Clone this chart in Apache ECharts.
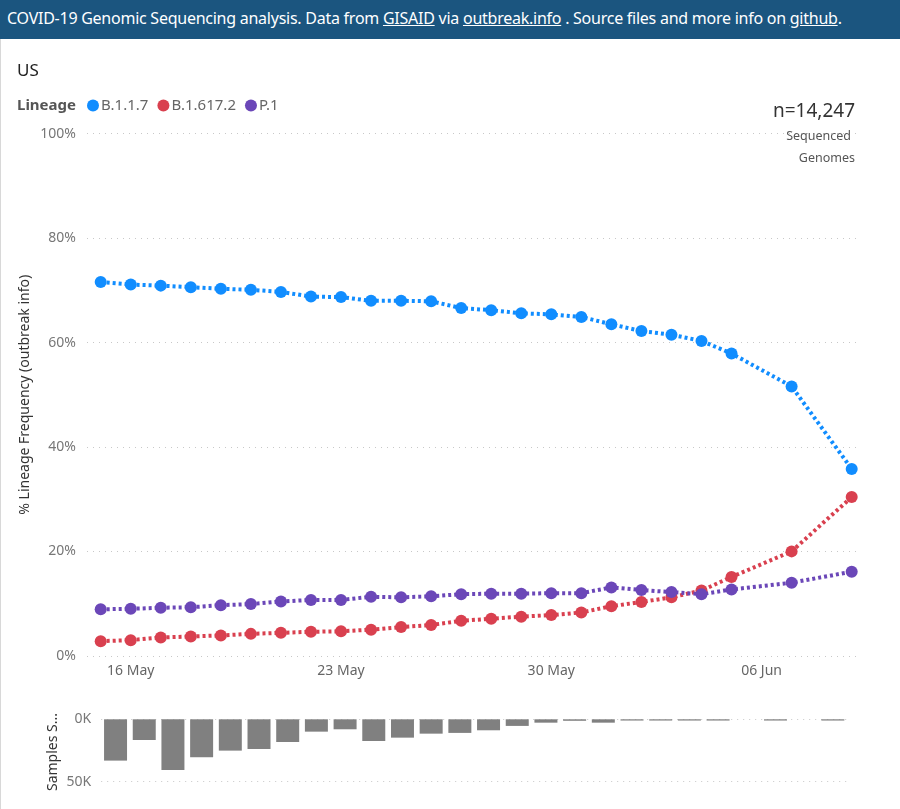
<!DOCTYPE html>
<html>
<head>
<meta charset="utf-8">
<script src="https://cdn.jsdelivr.net/npm/echarts@6/dist/echarts.min.js"></script>
<style>
  html, body { margin: 0; padding: 0; background: #fff; overflow: hidden; }
  #header {
    position: absolute; left: 0; top: 0; width: 900px; height: 39px; line-height: 37px;
    background: #1b557f; color: #fff; white-space: nowrap; padding-left: 7px; box-sizing: border-box;
    font-family: "Noto Sans", sans-serif; font-size: 16px; letter-spacing: -0.25px;
  }
  #header a { color: #fff; text-decoration: underline; }
  #edge { position: absolute; left: 0; top: 39px; width: 1px; height: 770px; background: #d8d8d8; }
  #chart { position: absolute; left: 0; top: 0; width: 900px; height: 809px; }
</style>
</head>
<body>
<div id="chart"></div>
<div id="header">COVID-19 Genomic Sequencing analysis. Data from <a>GISAID</a> via <a>outbreak.info</a> . Source files and more info on <a>github</a>.</div>
<div id="edge"></div>
<script>
var dates = ['2021-05-15', '2021-05-16', '2021-05-17', '2021-05-18', '2021-05-19', '2021-05-20', '2021-05-21',
  '2021-05-22', '2021-05-23', '2021-05-24', '2021-05-25', '2021-05-26', '2021-05-27', '2021-05-28',
  '2021-05-29', '2021-05-30', '2021-05-31', '2021-06-01', '2021-06-02', '2021-06-03', '2021-06-04',
  '2021-06-05', '2021-06-06', '2021-06-07', '2021-06-08', '2021-06-09'];
var b117 = [71.6, 71.1, 70.9, 70.6, 70.3, 70.1, 69.7, 68.8, 68.7, 68.0, 68.0, 67.9, 66.6, 66.2,
  65.6, 65.4, 64.9, 63.5, 62.2, 61.5, 60.3, 57.9, null, 51.6, null, 35.8];
var b16172 = [2.8, 3.0, 3.5, 3.7, 3.9, 4.2, 4.4, 4.6, 4.7, 5.0, 5.5, 5.9, 6.7, 7.1,
  7.5, 7.8, 8.3, 9.5, 10.3, 11.2, 12.5, 15.1, null, 20.0, null, 30.4];
var p1 = [8.9, 9.0, 9.2, 9.3, 9.7, 9.9, 10.4, 10.7, 10.7, 11.3, 11.2, 11.4, 11.8, 11.9,
  11.9, 12.0, 12.0, 13.1, 12.6, 12.2, 11.8, 12.7, null, 14.0, null, 16.1];
var samples = [33.1, 16.6, 40.6, 30.4, 25.1, 23.8, 18.2, 9.9, 8.0, 17.4, 14.7, 11.5, 10.9, 8.8,
  5.3, 2.7, 1.2, 2.7, 1.0, 1.0, 1.0, 1.0, null, 1.0, null, 1.0];
var dateLabels = ['2021-05-16', '2021-05-23', '2021-05-30', '2021-06-06'];
var monthNames = ['Jan', 'Feb', 'Mar', 'Apr', 'May', 'Jun', 'Jul', 'Aug', 'Sep', 'Oct', 'Nov', 'Dec'];

var DAY = 86400000;
var FONT = '"Noto Sans", sans-serif';

function ms(s) { return new Date(s + 'T00:00:00Z').getTime(); }
function pairs(values) {
  return dates.map(function (d, i) { return [ms(d), values[i]]; });
}
function dayLabel(v) {
  var d = new Date(v), n = d.getUTCDate();
  return (n < 10 ? '0' + n : n) + ' ' + monthNames[d.getUTCMonth()];
}
function lineSeries(name, color, values) {
  return {
    name: name,
    type: 'line',
    xAxisIndex: 0,
    yAxisIndex: 0,
    data: pairs(values),
    connectNulls: true,
    symbol: 'circle',
    symbolSize: 12,
    itemStyle: { color: color },
    lineStyle: { color: color, width: 4, type: [3, 3] }
  };
}
function label(text, opts) {
  var t = { text: text, textStyle: { fontFamily: FONT, fontWeight: 'normal', fontSize: opts.size, color: opts.color }, padding: 0 };
  if (opts.right !== undefined) t.right = opts.right; else t.left = opts.left;
  t.top = opts.top;
  if (opts.bold) t.textStyle.fontWeight = 'bold';
  return t;
}

var chart = echarts.init(document.getElementById('chart'));
chart.setOption({
  animation: false,
  backgroundColor: '#fff',
  tooltip: { trigger: 'item' },
  title: [
    label('US', { left: 17, top: 63, size: 17, color: '#222' }),
    label('Lineage', { left: 17, top: 98, size: 15, color: '#555', bold: true }),
    label('n=14,247', { right: 45, top: 102, size: 19, color: '#333' }),
    label('Sequenced', { right: 49, top: 130, size: 12.5, color: '#555' }),
    label('Genomes', { right: 45, top: 152, size: 12.5, color: '#555' })
  ],
  legend: {
    left: 87,
    top: 98,
    padding: 0,
    icon: 'circle',
    itemWidth: 12,
    itemHeight: 12,
    itemGap: 9,
    selectedMode: false,
    textStyle: { fontFamily: FONT, fontSize: 15, color: '#666', padding: [0, 0, 0, -3] },
    data: ['B.1.1.7', 'B.1.617.2', 'P.1']
  },
  grid: [
    { left: 87, top: 133.7, width: 774, height: 522.1 },
    { left: 101.2, top: 719.3, width: 746, height: 62.4 }
  ],
  xAxis: [
    {
      type: 'value',
      gridIndex: 0,
      min: ms(dates[0]) - 0.456 * DAY,
      max: ms(dates[dates.length - 1]) + 0.31 * DAY,
      axisLine: { show: false },
      axisTick: { show: false },
      splitLine: { show: false },
      axisLabel: {
        customValues: dateLabels.map(ms),
        formatter: dayLabel,
        margin: 8,
        fontFamily: FONT,
        fontSize: 14,
        color: '#666'
      }
    },
    {
      type: 'category',
      gridIndex: 1,
      data: dates,
      axisLine: { show: false },
      axisTick: { show: false },
      axisLabel: { show: false }
    }
  ],
  yAxis: [
    {
      type: 'value',
      gridIndex: 0,
      min: 0,
      max: 100,
      interval: 20,
      name: '% Lineage Frequency (outbreak info)',
      nameLocation: 'middle',
      nameMoveOverlap: false,
      nameGap: 55,
      nameTextStyle: { fontFamily: FONT, fontSize: 14, color: '#333' },
      axisLine: { show: false },
      axisTick: { show: false },
      axisLabel: { formatter: '{value}%', margin: 11, fontFamily: FONT, fontSize: 14, color: '#777' },
      splitLine: { lineStyle: { color: '#c8c8c8', width: 1, type: [1, 5] } }
    },
    {
      type: 'value',
      gridIndex: 1,
      inverse: true,
      min: 0,
      max: 50,
      interval: 50,
      name: 'Samples S...',
      nameLocation: 'middle',
      nameMoveOverlap: false,
      nameGap: 41,
      nameTextStyle: { fontFamily: FONT, fontSize: 14, color: '#333', padding: [0, 3, 0, 0] },
      axisLine: { show: false },
      axisTick: { show: false },
      axisLabel: { formatter: '{value}K', margin: 10, fontFamily: FONT, fontSize: 14, color: '#777' },
      splitLine: { lineStyle: { color: '#c8c8c8', width: 1, type: [1, 5] } }
    }
  ],
  series: [
    lineSeries('B.1.1.7', '#118dff', b117),
    lineSeries('B.1.617.2', '#d9404f', b16172),
    lineSeries('P.1', '#6b47b8', p1),
    {
      name: 'Samples',
      type: 'bar',
      xAxisIndex: 1,
      yAxisIndex: 1,
      data: samples,
      barWidth: 23,
      itemStyle: { color: '#808080' }
    }
  ]
});
</script>
</body>
</html>
